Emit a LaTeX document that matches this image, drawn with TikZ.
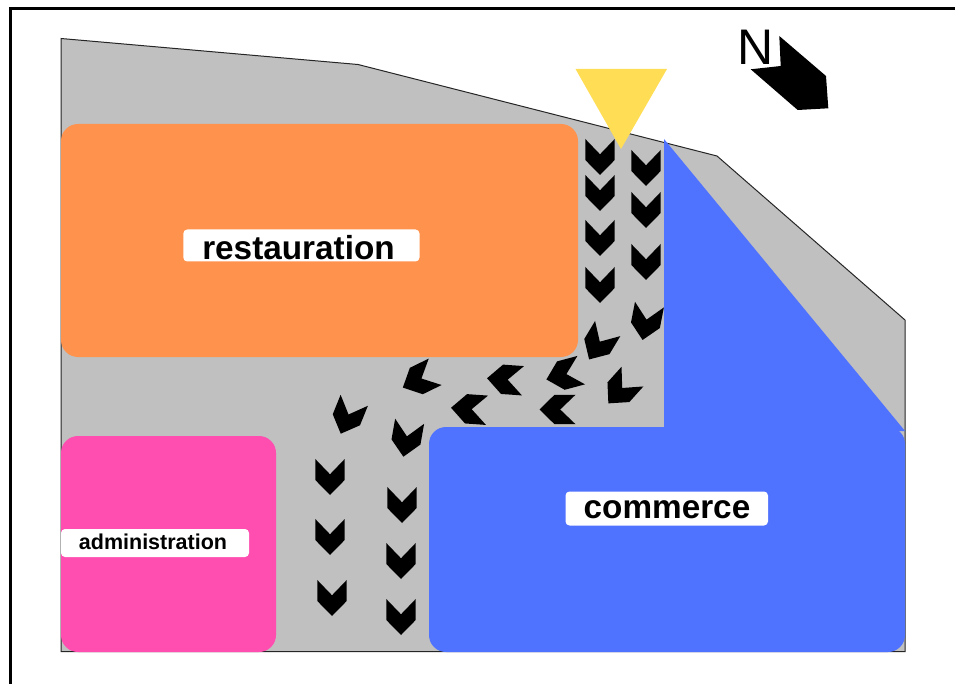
\documentclass[tikz,border=0pt]{standalone}
\usepackage{fontspec}
\setmainfont{Liberation Sans}
\definecolor{groundc}{HTML}{C0C0C0}
\definecolor{orangec}{HTML}{FF924D}
\definecolor{pinkc}{HTML}{FF4DB0}
\definecolor{bluec}{HTML}{4F72FF}
\definecolor{yellowc}{HTML}{FFDD55}
\tikzset{
  zone/.style={rounded corners=17pt},
  labelbox/.style={fill=white,rounded corners=4pt,inner sep=0pt},
  labeltext/.style={inner sep=0pt,anchor=base,text=black,font=\bfseries},
}
\begin{document}
\begin{tikzpicture}[x=1pt,y=-1pt]
\useasboundingbox (0,0) rectangle (955,684);
% page frame
\draw[black,line width=2.6pt] (10.2,684) -- (10.2,8.4) -- (955,8.4);
% ground
\draw[fill=groundc,draw=black!85,line width=1pt] (61,38.5) -- (358,64.5) -- (717,156) -- (905,320) -- (905,651.5) -- (61,651.5) -- cycle;
% zones
\fill[orangec,zone] (61,124) rectangle (578,357);
\fill[pinkc,zone] (61,436) rectangle (276,652);
\fill[bluec,zone] (429,427) rectangle (905,652);
\fill[bluec] (664,139) -- (905,431) -- (664,431) -- cycle;
% entrance triangle
\fill[yellowc] (575.5,69) -- (667,69) -- (621,149) -- cycle;
% chevrons
\foreach \px/\py/\rot in {
  600/157/0, 600/193/0, 600/238/0, 600/285/0,
  646/168/0, 646/210/0, 646/262/0, 646/322.3/11,
  598.4/344/31, 620.4/390/42, 563.8/374.8/75, 557.5/409.5/90,
  505/379.5/94, 469/409/94, 419/379.7/64, 347.5/417/22, 406.5/439/10,
  330/477/0, 330/537/0, 332/598/0,
  402/505/0, 401/561/0, 401/617/0}{
  \fill[black,shift={(\px,\py)},rotate=-\rot] (-14.7,-18) -- (0,-2.7) -- (14.7,-18) -- (14.7,3) -- (0,18) -- (-14.7,3) -- cycle;
}
% north arrow
\fill[black] (779.3,36) -- (826,76) -- (828.3,108.3) -- (797.7,110) -- (750.7,69.3) -- (780.7,66) -- cycle;
\node[inner sep=0pt,anchor=base,text=black] (north) at (756,64.5) {\fontsize{50}{50}\selectfont N};
% labels
\fill[labelbox] (183.3,229.5) rectangle (419.5,261.5);
\node[labeltext] (restauration) at (298.5,259.5) {\fontsize{33.3}{33.3}\selectfont restauration};
\fill[labelbox] (565.5,491.5) rectangle (768,525.5);
\node[labeltext] (commerce) at (667,518) {\fontsize{33.3}{33.3}\selectfont commerce};
\fill[labelbox] (61,529) rectangle (249,557);
\node[labeltext] (administration) at (153,549.3) {\fontsize{21.5}{21.5}\selectfont administration};
\end{tikzpicture}
\end{document}
